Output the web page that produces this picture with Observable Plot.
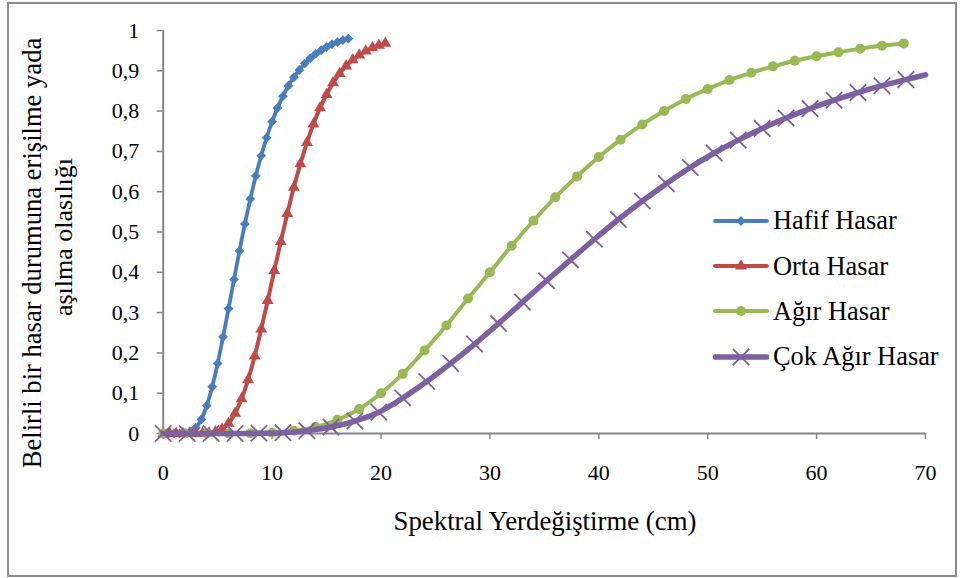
<!DOCTYPE html>
<html><head><meta charset="utf-8">
<script src="https://cdn.jsdelivr.net/npm/d3@7"></script>
<script src="https://cdn.jsdelivr.net/npm/@observablehq/plot@0.6"></script>
<style>
html,body{margin:0;padding:0;background:#fff;}
#wrap{position:relative;width:963px;height:578px;font-family:'Liberation Serif','Times New Roman',serif;overflow:hidden;}
#border{position:absolute;left:7px;top:2px;width:946px;height:571px;border:2px solid #8c8c8c;pointer-events:none;}
#legend{position:absolute;left:713px;top:198px;font-family:'Liberation Serif','Times New Roman',serif;}
.item{display:flex;align-items:center;height:45.4px;font-size:26.4px;color:#000;white-space:nowrap;}
.item svg{margin-right:4px;}
svg text{font-family:'Liberation Serif','Times New Roman',serif;}
</style></head><body><div id="wrap"><div id="border"></div><div id="legend"></div></div>
<script>
// ---- data ----
const xTicks = [0, 10, 20, 30, 40, 50, 60, 70];
const yTicks = [0, 0.1, 0.2, 0.3, 0.4, 0.5, 0.6, 0.7, 0.8, 0.9, 1];

const hafifX = [0,0.5,1,1.5,2,2.5,3,3.5,4,4.5,5,5.5,6,6.5,7,7.5,8,8.5,9,9.5,10,10.5,11,11.5,12,12.5,13,13.5,14,14.5,15,15.5,16,16.5,17];
const hafifY = [0,0,0,0,0.0008,0.0043,0.0144,0.035,0.069,0.116,0.174,0.240,0.310,0.382,0.453,0.520,0.582,0.639,0.689,0.734,0.774,0.808,0.837,0.863,0.884,0.902,0.918,0.931,0.942,0.951,0.959,0.966,0.971,0.976,0.980];

const ortaX = [0,0.6,1.2,1.8,2.4,3.0,3.6,4.2,4.8,5.4,6.0,6.6,7.2,7.8,8.4,9.0,9.6,10.2,10.8,11.4,12.0,12.6,13.2,13.8,14.4,15.0,15.6,16.2,16.8,17.4,18.0,18.6,19.2,19.8,20.4];
const ortaY = [0,0,0,0,0,0,0.0002,0.001,0.004,0.011,0.025,0.050,0.086,0.134,0.192,0.259,0.330,0.404,0.476,0.546,0.611,0.669,0.722,0.768,0.808,0.841,0.870,0.893,0.912,0.927,0.939,0.949,0.957,0.963,0.968];

const agirX = [0,2,4,6,8,10,12,14,16,18,20,22,24,26,28,30,32,34,36,38,40,42,44,46,48,50,52,54,56,58,60,62,64,66,68];
const agirY = [0,0,0,0.0001,0.0005,0.002,0.007,0.016,0.034,0.061,0.100,0.148,0.206,0.268,0.335,0.400,0.466,0.528,0.586,0.638,0.686,0.729,0.767,0.800,0.830,0.855,0.877,0.895,0.911,0.925,0.936,0.946,0.955,0.962,0.968];

const cokAgirX = [0,2.2,4.4,6.6,8.8,11,13.2,15.4,17.6,19.8,22,24.2,26.4,28.6,30.8,33,35.2,37.4,39.6,41.8,44,46.2,48.4,50.6,52.8,55,57.2,59.4,61.6,63.8,66,68.2];
const cokAgirY = [0,0,0,0,0.0005,0.002,0.007,0.016,0.031,0.053,0.088,0.129,0.174,0.222,0.273,0.326,0.379,0.431,0.482,0.531,0.577,0.620,0.660,0.696,0.728,0.757,0.783,0.806,0.827,0.846,0.863,0.878];
// where the last curve leaves the plot at the right axis edge (no marker there)
const cokAgirEdgeX = 70;
const cokAgirEdgeY = 0.890;

const seriesNames = ["Hafif Hasar", "Orta Hasar", "Ağır Hasar", "Çok Ağır Hasar"];

// ---- styles ----
const styles = [
  {color:"#4a7ebb", symbol:"diamond2", r:4.4, filled:true, lw:3.8},
  {color:"#be4b48", symbol:"triangle", r:4.4, filled:true, lw:4},
  {color:"#98b954", symbol:"circle", r:5, filled:true, lw:4},
  {color:"#7d60a0", symbol:"times", r:7.5, filled:false, lw:5.5}
];

const zip = (xs, ys) => xs.map((x, i) => ({x, y: ys[i]}));
const pts = [zip(hafifX, hafifY), zip(ortaX, ortaY), zip(agirX, agirY), zip(cokAgirX, cokAgirY)];
const lineData = [pts[0], pts[1], pts[2], pts[3].concat([{x: cokAgirEdgeX, y: cokAgirEdgeY}])];

const fontFam = "'Liberation Serif', 'Times New Roman', serif";
const axisGray = "#868686";

const marks = [
  Plot.axisX({ticks: xTicks, tickSize: 6, tickPadding: 25, stroke: axisGray, strokeWidth: 1.5, fill: "#000", fontSize: 22, label: null}),
  Plot.axisY({ticks: yTicks, tickSize: 6, tickPadding: 18, stroke: axisGray, strokeWidth: 1.5, fill: "#000", fontSize: 22, label: null,
    tickFormat: d => String(d).replace(".", ",")}),
  Plot.ruleY([0], {stroke: axisGray, strokeWidth: 2}),
  Plot.ruleX([0], {stroke: axisGray, strokeWidth: 2})
];
styles.forEach((s, i) => {
  marks.push(Plot.line(lineData[i], {x: "x", y: "y", stroke: s.color, strokeWidth: s.lw, curve: "catmull-rom"}));
  if (s.filled) {
    marks.push(Plot.dot(pts[i], {x: "x", y: "y", symbol: s.symbol, r: s.r, fill: s.color, stroke: "none"}));
  } else {
    marks.push(Plot.dot(pts[i], {x: "x", y: "y", symbol: s.symbol, r: s.r, fill: "none", stroke: s.color, strokeWidth: 1.8}));
  }
});

const chart = Plot.plot({
  width: 963,
  height: 578,
  marginLeft: 162.7,
  marginRight: 38,
  marginTop: 30,
  marginBottom: 145,
  x: {domain: [0, 70]},
  y: {domain: [0, 1]},
  style: {fontFamily: fontFam, background: "transparent", color: "#000", overflow: "visible"},
  marks
});
chart.setAttribute("font-family", fontFam);

const svg = d3.select(chart);
const addText = (tf, x, y, size, txt) => svg.append("text")
  .attr("transform", tf).attr("x", x).attr("y", y).attr("dy", "0.35em")
  .attr("text-anchor", "middle").attr("font-family", fontFam)
  .style("font-size", size + "px").attr("fill", "#000").text(txt);
addText(null, 545, 521, 26.8, "Spektral Yerdeğiştirme (cm)");
addText("translate(32,253) rotate(-90)", 0, 0, 26.6, "Belirli bir hasar durumuna erişilme yada");
addText("translate(63,237) rotate(-90)", 0, 0, 26, "aşılma olasılığı");

document.getElementById("wrap").insertBefore(chart, document.getElementById("border"));
chart.style.position = "absolute";
chart.style.left = "0px";
chart.style.top = "0px";

// legend
const symMap = {diamond2: d3.symbolDiamond2, triangle: d3.symbolTriangle, circle: d3.symbolCircle, times: d3.symbolTimes};
const legend = d3.select("#legend");
seriesNames.forEach((name, i) => {
  const s = styles[i];
  const item = legend.append("div").attr("class", "item");
  const sw = item.append("svg").attr("width", 56).attr("height", 24);
  sw.append("line").attr("x1", 2).attr("x2", 54).attr("y1", 12).attr("y2", 12)
    .attr("stroke", s.color).attr("stroke-width", s.lw).attr("stroke-linecap", "round");
  const p = d3.symbol(symMap[s.symbol], Math.PI * s.r * s.r)();
  sw.append("path").attr("d", p).attr("transform", "translate(28,12)")
    .attr("fill", s.filled ? s.color : "none").attr("stroke", s.filled ? "none" : s.color).attr("stroke-width", 1.8);
  item.append("span").text(name);
});
</script>
</body></html>
